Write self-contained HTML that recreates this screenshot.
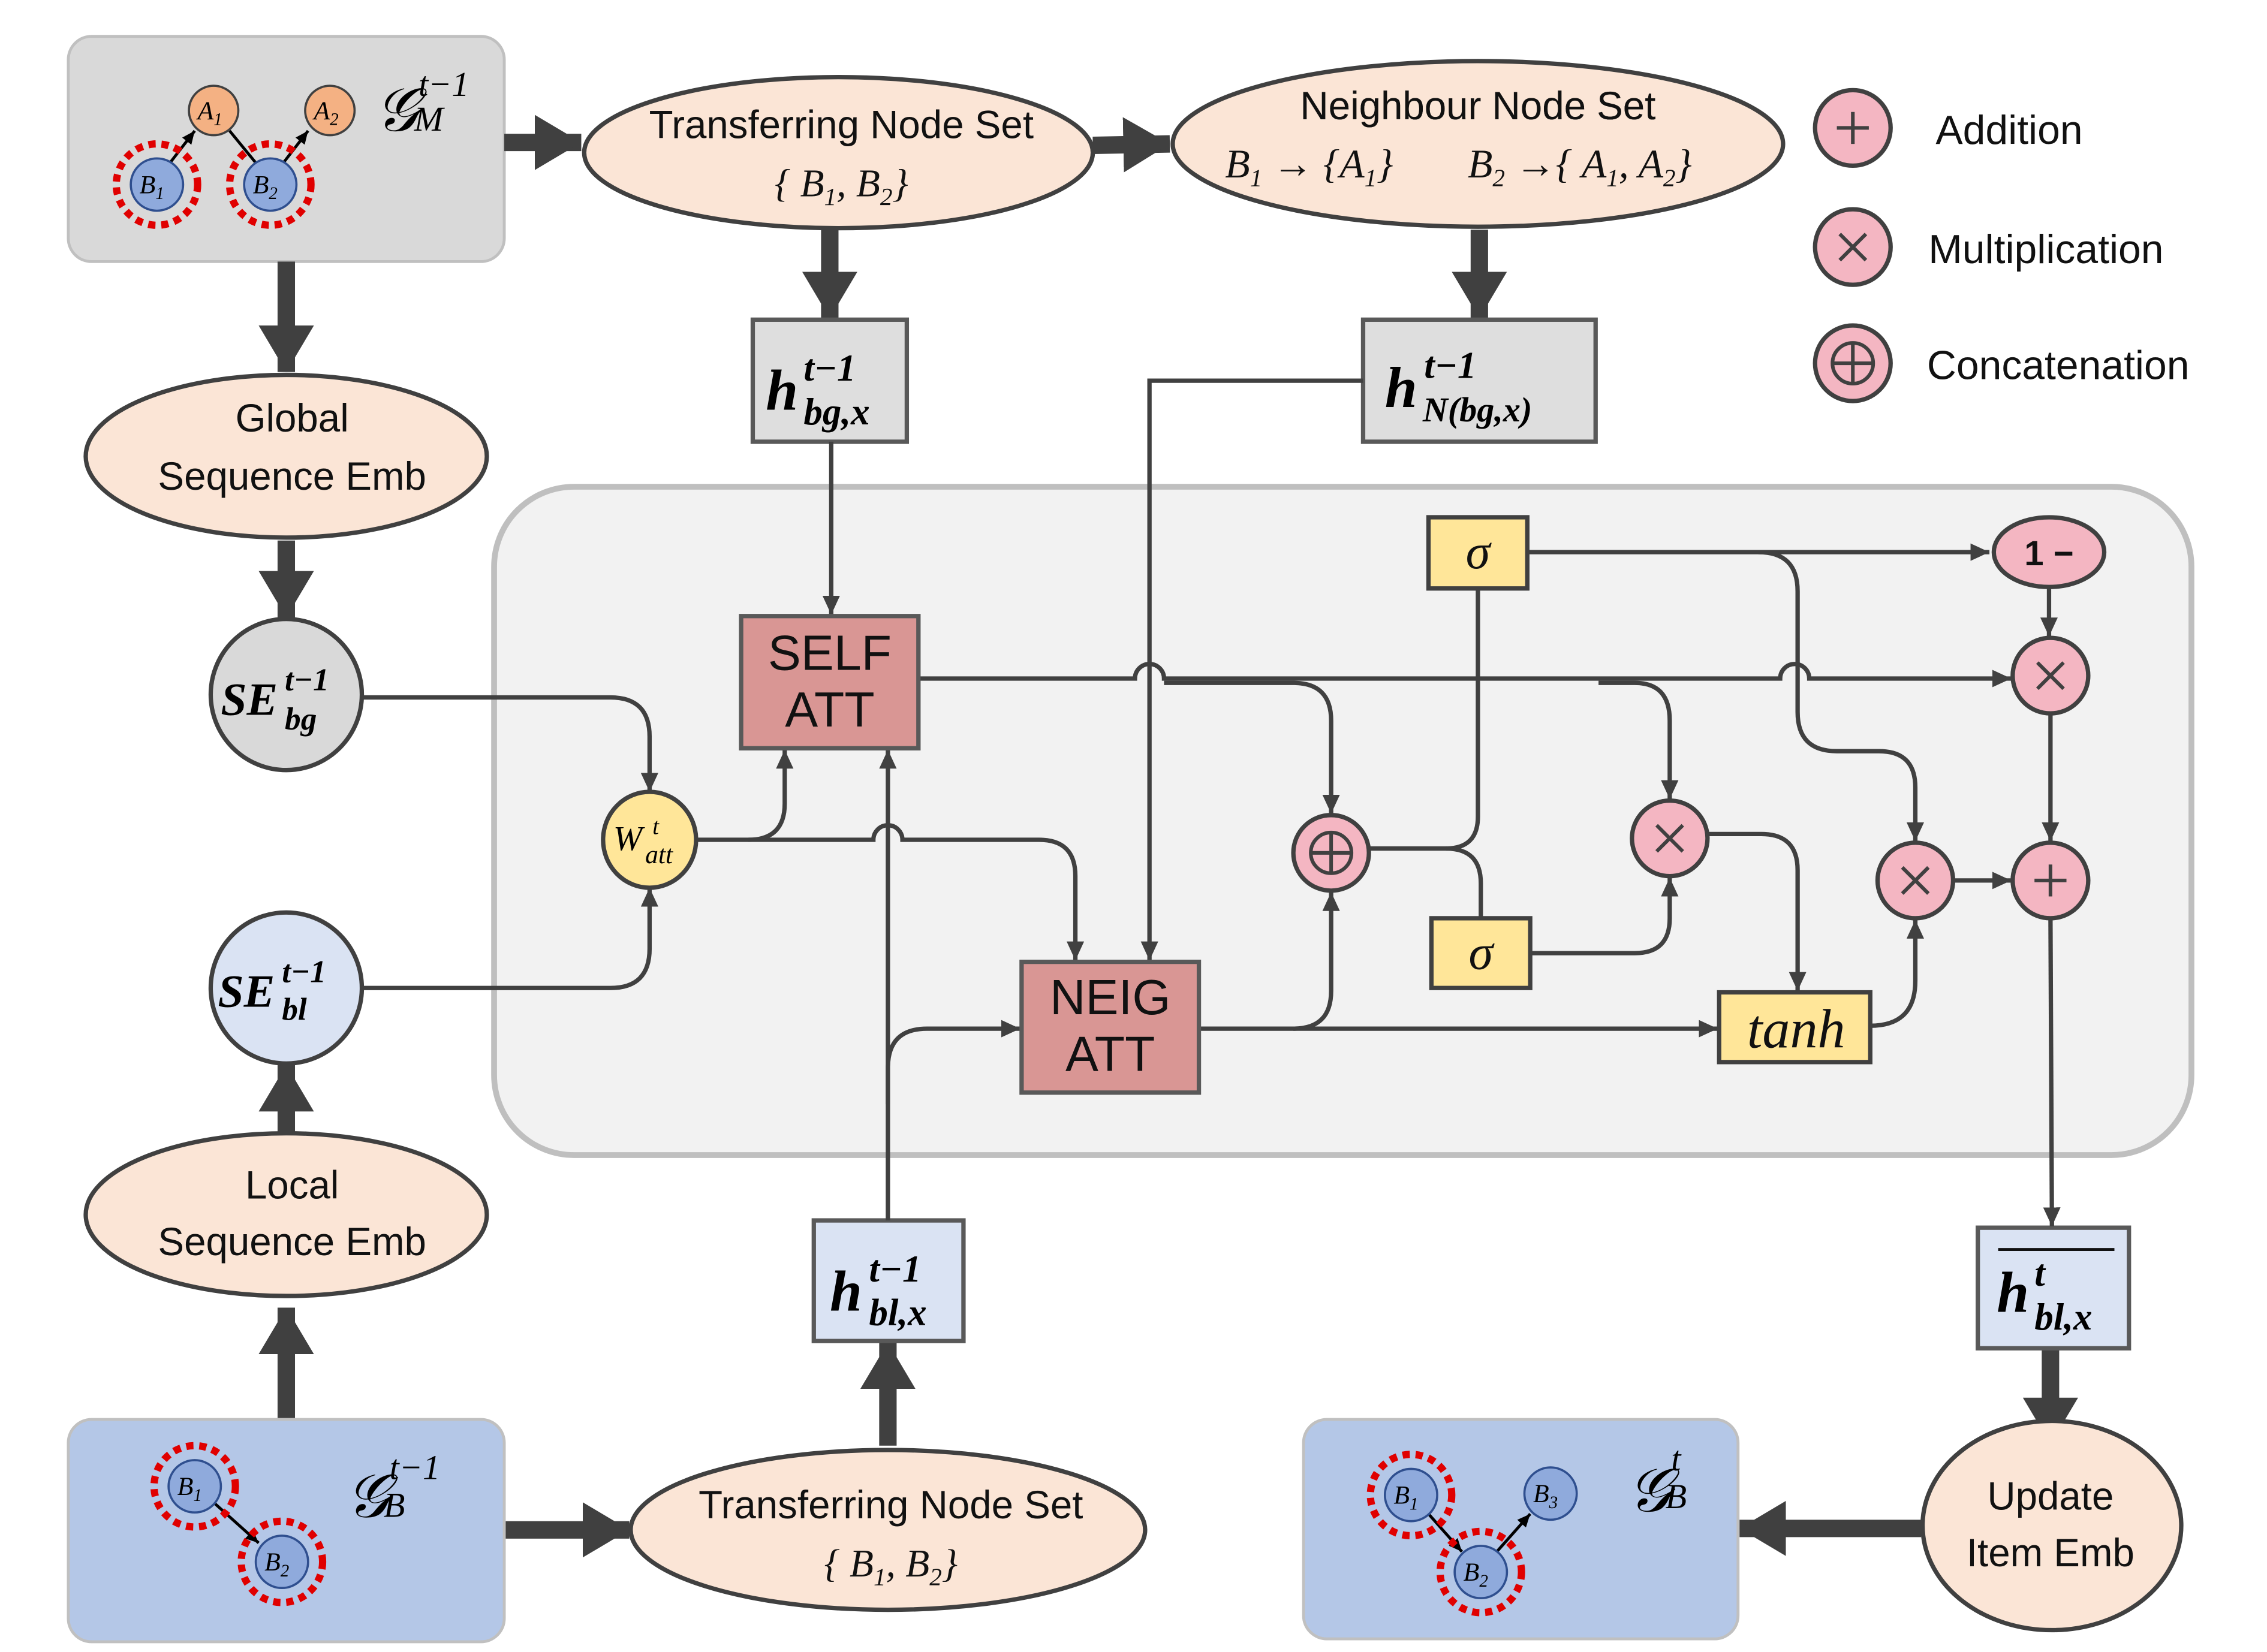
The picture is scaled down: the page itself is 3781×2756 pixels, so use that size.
<!DOCTYPE html>
<html><head><meta charset="utf-8"><style>html,body{margin:0;padding:0;background:#fff}svg{display:block}</style></head>
<body>
<svg width="3781" height="2756" viewBox="0 0 1560 1137" xmlns="http://www.w3.org/2000/svg" font-family="Liberation Sans, sans-serif">
<defs>
<marker id="T" markerUnits="userSpaceOnUse" markerWidth="36" markerHeight="38" refX="32" refY="19" orient="auto"><path d="M0,0 L32,19 L0,38 z" fill="#404040"/></marker>
<marker id="a" markerUnits="userSpaceOnUse" markerWidth="14" markerHeight="12" refX="13" refY="6" orient="auto"><path d="M0,0 L13,6 L0,12 z" fill="#404040"/></marker>
<marker id="s" markerUnits="userSpaceOnUse" markerWidth="10" markerHeight="8" refX="9" refY="4" orient="auto"><path d="M0,0 L9,4 L0,8 z" fill="#000"/></marker>
</defs>
<rect x="340" y="335" width="1168" height="460" rx="55" fill="#f2f2f2" stroke="#bfbfbf" stroke-width="4"/>

<rect x="47" y="25" width="300" height="155" rx="16" fill="#d9d9d9" stroke="#c0c0c0" stroke-width="2"/>
<g font-family="Liberation Serif, serif" font-style="italic" font-size="18">
<line x1="117" y1="112" x2="134" y2="90" stroke="#000" stroke-width="2" marker-end="url(#s)"/>
<line x1="176" y1="112" x2="158" y2="90" stroke="#000" stroke-width="2"/>
<line x1="195" y1="112" x2="212" y2="90" stroke="#000" stroke-width="2" marker-end="url(#s)"/>
<circle cx="147" cy="76" r="17" fill="#f4b183" stroke="#404040" stroke-width="1.5"/><text x="136" y="82">A<tspan font-size="12" dy="4">1</tspan></text>
<circle cx="227" cy="76" r="17" fill="#f4b183" stroke="#404040" stroke-width="1.5"/><text x="216" y="82">A<tspan font-size="12" dy="4">2</tspan></text>
<circle cx="108" cy="127" r="28" fill="none" stroke="#e00000" stroke-width="5" stroke-dasharray="5 4"/>
<circle cx="108" cy="127" r="18" fill="#8faadc" stroke="#2f4f8f" stroke-width="1.5"/><text x="96" y="133">B<tspan font-size="12" dy="4">1</tspan></text>
<circle cx="186" cy="127" r="28" fill="none" stroke="#e00000" stroke-width="5" stroke-dasharray="5 4"/>
<circle cx="186" cy="127" r="18" fill="#8faadc" stroke="#2f4f8f" stroke-width="1.5"/><text x="174" y="133">B<tspan font-size="12" dy="4">2</tspan></text>
<text x="258" y="90" font-size="42">𝒢</text><text x="288" y="66" font-size="24">t−1</text><text x="285" y="90" font-size="24">M</text>
</g>

<g stroke="#404040" stroke-width="12" fill="none">
<line x1="347" y1="98" x2="400" y2="98" marker-end="url(#T)"/>
<line x1="752" y1="100" x2="805" y2="99" marker-end="url(#T)"/>
<line x1="571" y1="158" x2="571" y2="219" marker-end="url(#T)"/>
<line x1="1018" y1="158" x2="1018" y2="219" marker-end="url(#T)"/>
<line x1="197" y1="180" x2="197" y2="256" marker-end="url(#T)"/>
<line x1="197" y1="372" x2="197" y2="425" marker-end="url(#T)"/>
<line x1="197" y1="780" x2="197" y2="733" marker-end="url(#T)"/>
<line x1="197" y1="977" x2="197" y2="900" marker-end="url(#T)"/>
<line x1="347" y1="1053" x2="433" y2="1053" marker-end="url(#T)"/>
<line x1="611" y1="995" x2="611" y2="924" marker-end="url(#T)"/>
<line x1="1411" y1="928" x2="1411" y2="994" marker-end="url(#T)"/>
<line x1="1322" y1="1052" x2="1197" y2="1052" marker-end="url(#T)"/>
</g>

<g fill="#fbe5d6" stroke="#404040" stroke-width="3">
<ellipse cx="577" cy="105" rx="175" ry="52"/>
<ellipse cx="1017" cy="99" rx="210" ry="57"/>
<ellipse cx="197" cy="314" rx="138" ry="56"/>
<ellipse cx="197" cy="836" rx="138" ry="56"/>
<ellipse cx="611" cy="1053" rx="177" ry="55"/>
<ellipse cx="1412" cy="1050" rx="89" ry="72"/>
</g>
<g font-size="27" fill="#111" text-anchor="middle">
<text x="579" y="95">Transferring Node Set</text>
<text x="579" y="135" font-family="Liberation Serif, serif" font-style="italic">{ B<tspan font-size="17" dy="6">1</tspan><tspan dy="-6">, B</tspan><tspan font-size="17" dy="6">2</tspan><tspan dy="-6">}</tspan></text>
<text x="1017" y="82">Neighbour Node Set</text>
<text x="1017" y="82">Neighbour Node Set</text>
<text x="613" y="1045">Transferring Node Set</text>
<text x="613" y="1085" font-family="Liberation Serif, serif" font-style="italic">{ B<tspan font-size="17" dy="6">1</tspan><tspan dy="-6">, B</tspan><tspan font-size="17" dy="6">2</tspan><tspan dy="-6">}</tspan></text>
<text x="201" y="297">Global</text><text x="201" y="337">Sequence Emb</text>
<text x="201" y="825">Local</text><text x="201" y="864">Sequence Emb</text>
<text x="1411" y="1039">Update</text><text x="1411" y="1078">Item Emb</text>
</g>
<g font-size="28" fill="#111" font-family="Liberation Serif, serif" font-style="italic">
<text x="843" y="122">B<tspan font-size="17" dy="6">1</tspan><tspan dy="-6"> → {A</tspan><tspan font-size="17" dy="6">1</tspan><tspan dy="-6">}</tspan></text>
<text x="1010" y="122">B<tspan font-size="17" dy="6">2</tspan><tspan dy="-6"> →{ A</tspan><tspan font-size="17" dy="6">1</tspan><tspan dy="-6">, A</tspan><tspan font-size="17" dy="6">2</tspan><tspan dy="-6">}</tspan></text>
</g>

<g fill="#f4b6c2" stroke="#404040" stroke-width="3">
<circle cx="1275" cy="88" r="26"/><circle cx="1275" cy="170" r="26"/><circle cx="1275" cy="250" r="26"/>
</g>
<g stroke="#404040" stroke-width="2.5" fill="none">
<path d="M1264,88 h22 M1275,77 v22"/>
<path d="M1266,161 l18,18 M1284,161 l-18,18"/>
<circle cx="1275" cy="250" r="14"/><path d="M1261,250 h28 M1275,236 v28"/>
</g>
<g font-size="28" fill="#111">
<text x="1332" y="99">Addition</text><text x="1327" y="181">Multiplication</text><text x="1326" y="261">Concatenation</text>
</g>

<rect x="518" y="220" width="106" height="84" fill="#dedede" stroke="#595959" stroke-width="3"/>
<rect x="938" y="220" width="160" height="84" fill="#dedede" stroke="#595959" stroke-width="3"/>
<rect x="560" y="840" width="103" height="83" fill="#dae3f3" stroke="#595959" stroke-width="3"/>
<rect x="1361" y="845" width="104" height="83" fill="#dae3f3" stroke="#595959" stroke-width="3"/>
<g font-family="Liberation Serif, serif" font-style="italic" font-weight="bold">
<text x="527" y="282" font-size="40">h</text><text x="553" y="262" font-size="26">t−1</text><text x="553" y="292" font-size="26">bg,x</text>
<text x="953" y="280" font-size="40">h</text><text x="980" y="260" font-size="26">t−1</text><text x="979" y="290" font-size="24">N(bg,x)</text>
<text x="571" y="902" font-size="40">h</text><text x="598" y="882" font-size="26">t−1</text><text x="598" y="912" font-size="26">bl,x</text>
<text x="1374" y="903" font-size="40">h</text><text x="1400" y="885" font-size="26">t</text><text x="1400" y="915" font-size="26">bl,x</text>
</g>
<line x1="1375" y1="860" x2="1455" y2="860" stroke="#111" stroke-width="2"/>

<circle cx="197" cy="478" r="52" fill="#d9d9d9" stroke="#404040" stroke-width="3"/>
<circle cx="197" cy="680" r="52" fill="#dae3f3" stroke="#404040" stroke-width="3"/>
<g font-family="Liberation Serif, serif" font-style="italic" font-weight="bold">
<text x="152" y="492" font-size="32">SE</text><text x="196" y="475" font-size="22">t−1</text><text x="196" y="502" font-size="22">bg</text>
<text x="150" y="693" font-size="32">SE</text><text x="194" y="676" font-size="22">t−1</text><text x="194" y="702" font-size="22">bl</text>
</g>

<g stroke="#404040" stroke-width="3" fill="none">
<line x1="572" y1="304" x2="572" y2="423" marker-end="url(#a)"/>
<path d="M938,262 H791 V661" marker-end="url(#a)"/>
<path d="M632,467 H781 a10,10 0 0 1 20,0 H1225 a10,10 0 0 1 20,0 H1384" marker-end="url(#a)"/>
<path d="M801,470 H890 q26,0 26,26 V560" marker-end="url(#a)"/>
<path d="M1100,470 H1125 q24,0 24,26 V550" marker-end="url(#a)"/>
<path d="M249,480 H420 q27,0 27,27 V545" marker-end="url(#a)"/>
<path d="M249,680 H420 q27,0 27,-27 V611" marker-end="url(#a)"/>
<path d="M479,578 H515 q25,0 25,-25 V516" marker-end="url(#a)"/>
<path d="M515,578 H601 a10,10 0 0 1 20,0 H715 q25,0 25,25 V661" marker-end="url(#a)"/>
<path d="M611,840 V516" marker-end="url(#a)"/>
<path d="M611,760 V735 q0,-27 27,-27 H702" marker-end="url(#a)"/>
<path d="M825,708 H1182" marker-end="url(#a)"/>
<path d="M890,708 q26,0 26,-26 V614" marker-end="url(#a)"/>
<path d="M942,584 H995 q22,0 22,-22 V405"/>
<path d="M995,584 q24,0 24,24 V632"/>
<path d="M1051,380 H1369" marker-end="url(#a)"/>
<path d="M1210,380 q27,0 27,27 V490 q0,27 27,27 H1293 q25,0 25,25 V579" marker-end="url(#a)"/>
<line x1="1410" y1="404" x2="1410" y2="438" marker-end="url(#a)"/>
<line x1="1411" y1="491" x2="1411" y2="579" marker-end="url(#a)"/>
<path d="M1053,656 H1125 q24,0 24,-24 V604" marker-end="url(#a)"/>
<path d="M1175,574 H1212 q25,0 25,25 V682" marker-end="url(#a)"/>
<path d="M1287,706 q31,0 31,-31 V633" marker-end="url(#a)"/>
<line x1="1344" y1="606" x2="1384" y2="606" marker-end="url(#a)"/>
<line x1="1411" y1="632" x2="1412" y2="844" marker-end="url(#a)"/>
</g>

<rect x="510" y="424" width="122" height="91" fill="#d99694" stroke="#595959" stroke-width="3"/>
<rect x="703" y="662" width="122" height="90" fill="#d99694" stroke="#595959" stroke-width="3"/>
<g font-size="34" fill="#111" text-anchor="middle">
<text x="571" y="461">SELF</text><text x="571" y="500">ATT</text>
<text x="764" y="698">NEIG</text><text x="764" y="737">ATT</text>
</g>

<ellipse cx="447" cy="578" rx="32" ry="33" fill="#ffe699" stroke="#404040" stroke-width="3"/>
<text x="422" y="585" font-family="Liberation Serif, serif" font-style="italic" font-size="24">W</text>
<text x="449" y="574" font-family="Liberation Serif, serif" font-style="italic" font-size="16">t</text>
<text x="444" y="594" font-family="Liberation Serif, serif" font-style="italic" font-size="18">att</text>

<rect x="983" y="356" width="68" height="49" fill="#ffe699" stroke="#404040" stroke-width="3"/>
<rect x="985" y="632" width="68" height="48" fill="#ffe699" stroke="#404040" stroke-width="3"/>
<rect x="1183" y="683" width="104" height="48" fill="#ffe699" stroke="#404040" stroke-width="3"/>
<g font-family="Liberation Serif, serif" font-style="italic" fill="#111" text-anchor="middle">
<text x="1017" y="391" font-size="34">σ</text>
<text x="1019" y="667" font-size="34">σ</text>
<text x="1236" y="721" font-size="38">tanh</text>
</g>

<g fill="#f4b6c2" stroke="#404040" stroke-width="3">
<ellipse cx="1410" cy="380" rx="38" ry="24"/>
<circle cx="1411" cy="465" r="26"/><circle cx="916" cy="587" r="26"/><circle cx="1149" cy="577" r="26"/>
<circle cx="1318" cy="606" r="26"/><circle cx="1411" cy="606" r="26"/>
</g>
<text x="1410" y="389" font-size="24" font-weight="bold" text-anchor="middle" fill="#111">1 −</text>
<g stroke="#404040" stroke-width="2.5" fill="none">
<path d="M1402,456 l18,18 M1420,456 l-18,18"/>
<path d="M1140,568 l18,18 M1158,568 l-18,18"/>
<path d="M1309,597 l18,18 M1327,597 l-18,18"/>
<path d="M1400,606 h22 M1411,595 v22"/>
<circle cx="916" cy="587" r="14"/><path d="M902,587 h28 M916,573 v28"/>
</g>

<rect x="47" y="977" width="300" height="153" rx="16" fill="#b4c7e7" stroke="#c0c0c0" stroke-width="2"/>
<g font-family="Liberation Serif, serif" font-style="italic" font-size="18">
<line x1="148" y1="1035" x2="178" y2="1062" stroke="#000" stroke-width="2" marker-end="url(#s)"/>
<circle cx="134" cy="1023" r="28" fill="none" stroke="#e00000" stroke-width="5" stroke-dasharray="5 4"/>
<circle cx="134" cy="1023" r="18" fill="#8faadc" stroke="#2f4f8f" stroke-width="1.5"/><text x="122" y="1029">B<tspan font-size="12" dy="4">1</tspan></text>
<circle cx="194" cy="1075" r="28" fill="none" stroke="#e00000" stroke-width="5" stroke-dasharray="5 4"/>
<circle cx="194" cy="1075" r="18" fill="#8faadc" stroke="#2f4f8f" stroke-width="1.5"/><text x="182" y="1081">B<tspan font-size="12" dy="4">2</tspan></text>
<text x="238" y="1044" font-size="42">𝒢</text><text x="268" y="1018" font-size="24">t−1</text><text x="264" y="1044" font-size="24">B</text>
</g>

<rect x="897" y="977" width="299" height="151" rx="16" fill="#b4c7e7" stroke="#c0c0c0" stroke-width="2"/>
<g font-family="Liberation Serif, serif" font-style="italic" font-size="18">
<line x1="983" y1="1042" x2="1006" y2="1068" stroke="#000" stroke-width="2" marker-end="url(#s)"/>
<line x1="1030" y1="1068" x2="1053" y2="1042" stroke="#000" stroke-width="2" marker-end="url(#s)"/>
<circle cx="971" cy="1029" r="28" fill="none" stroke="#e00000" stroke-width="5" stroke-dasharray="5 4"/>
<circle cx="971" cy="1029" r="18" fill="#8faadc" stroke="#2f4f8f" stroke-width="1.5"/><text x="959" y="1035">B<tspan font-size="12" dy="4">1</tspan></text>
<circle cx="1019" cy="1082" r="28" fill="none" stroke="#e00000" stroke-width="5" stroke-dasharray="5 4"/>
<circle cx="1019" cy="1082" r="18" fill="#8faadc" stroke="#2f4f8f" stroke-width="1.5"/><text x="1007" y="1088">B<tspan font-size="12" dy="4">2</tspan></text>
<circle cx="1067" cy="1028" r="18" fill="#8faadc" stroke="#2f4f8f" stroke-width="1.5"/><text x="1055" y="1034">B<tspan font-size="12" dy="4">3</tspan></text>
<text x="1120" y="1040" font-size="42">𝒢</text><text x="1150" y="1012" font-size="24">t</text><text x="1146" y="1038" font-size="24">B</text>
</g>
</svg>
</body></html>
